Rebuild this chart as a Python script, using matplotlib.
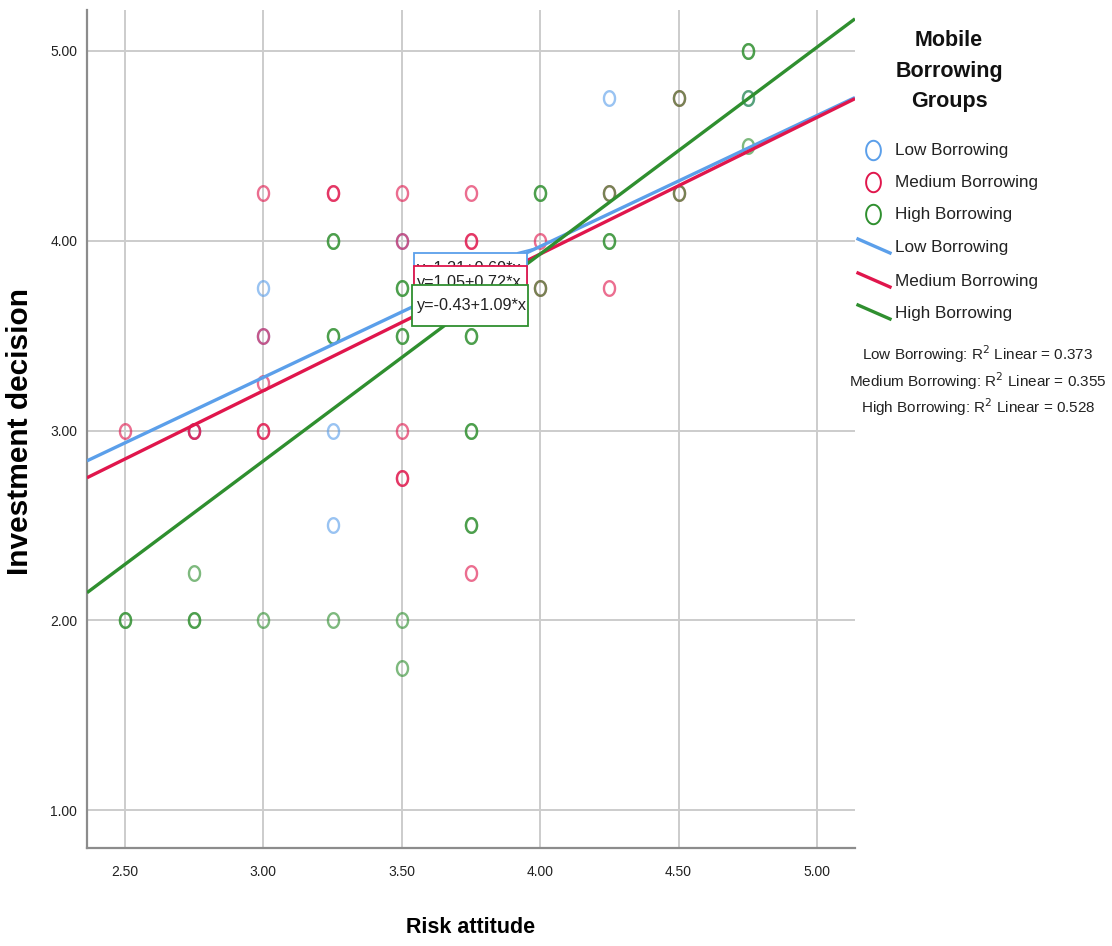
import matplotlib
matplotlib.use("Agg")
import matplotlib.pyplot as plt
import numpy as np
from matplotlib.path import Path
from matplotlib.patches import Rectangle

FONT = "Liberation Sans"

# ---------------- data ----------------
groups = ["Low Borrowing", "Medium Borrowing", "High Borrowing"]
colors = ["#5b9fea", "#e0164c", "#2f8f2f"]

low_x = [3.00, 3.00, 3.25, 3.25, 3.50, 4.25, 4.75, 2.75]
low_y = [3.75, 3.50, 3.00, 2.50, 4.00, 4.75, 4.75, 3.00]

med_x = [2.50, 2.75, 2.75, 3.00, 3.00, 3.00, 3.00, 3.00, 3.25, 3.25, 3.50, 3.50, 3.50,
         3.50, 3.50, 3.75, 3.75, 3.75, 3.75, 4.00, 4.00, 4.25, 4.25, 4.50, 4.50]
med_y = [3.00, 3.00, 3.00, 4.25, 3.50, 3.25, 3.00, 3.00, 4.25, 4.25, 4.25, 4.00, 3.00,
         2.75, 2.75, 4.25, 4.00, 4.00, 2.25, 4.00, 3.75, 4.25, 3.75, 4.75, 4.25]

high_x = [2.50, 2.50, 2.75, 2.75, 2.75, 3.00, 3.25, 3.25, 3.25, 3.25, 3.25, 3.50, 3.50,
          3.50, 3.50, 3.50, 3.50, 3.75, 3.75, 3.75, 3.75, 3.75, 3.75, 4.00, 4.00, 4.00,
          4.25, 4.25, 4.25, 4.50, 4.50, 4.75, 4.75, 4.75, 4.75]
high_y = [2.00, 2.00, 2.25, 2.00, 2.00, 2.00, 4.00, 4.00, 3.50, 3.50, 2.00, 3.75, 3.75,
          3.50, 3.50, 2.00, 1.75, 3.50, 3.50, 3.00, 3.00, 2.50, 2.50, 4.25, 4.25, 3.75,
          4.25, 4.00, 4.00, 4.75, 4.25, 5.00, 5.00, 4.75, 4.50]

intercepts = [1.21, 1.05, -0.43]
slopes = [0.69, 0.72, 1.09]
r2 = [0.373, 0.355, 0.528]

x_ticks = [2.50, 3.00, 3.50, 4.00, 4.50, 5.00]
y_ticks = [1.00, 2.00, 3.00, 4.00, 5.00]
x_label = "Risk attitude"
y_label = "Investment decision"
legend_title = "Mobile\nBorrowing\nGroups"

# ---------------- figure ----------------
W, H = 1112, 946
fig = plt.figure(figsize=(W / 100, H / 100), dpi=100)
ax = fig.add_axes([87 / W, (H - 848) / H, (855 - 87) / W, (848 - 10) / H])
xlim = (2.3627, 5.1373)
ax.set_xlim(*xlim)
ax.set_ylim(0.80, 5.216)

for s in ["top", "right"]:
    ax.spines[s].set_visible(False)
for s in ["left", "bottom"]:
    ax.spines[s].set_color("#8c8c8c")
    ax.spines[s].set_linewidth(1.6)

ax.set_xticks(x_ticks)
ax.set_yticks(y_ticks)
ax.set_xticklabels([f"{v:.2f}" for v in x_ticks], fontfamily=FONT, fontsize=10, color="#222222")
ax.set_yticklabels([f"{v:.2f}" for v in y_ticks], fontfamily=FONT, fontsize=10, color="#222222")
ax.tick_params(axis="both", length=0)
ax.tick_params(axis="x", pad=12)
ax.tick_params(axis="y", pad=7)
ax.grid(True, color="#cccccc", linewidth=1.4, zorder=0)
ax.set_axisbelow(True)

ax.set_xlabel(x_label, fontfamily=FONT, fontweight="bold", fontsize=15.5)
ax.xaxis.set_label_coords(0.5, (848 - 917) / 838)
ax.set_ylabel(y_label, fontfamily=FONT, fontweight="bold", fontsize=21.5)
ax.yaxis.set_label_coords((34 - 87) / 768, (848 - 431) / 838)

# elliptical (vertically stretched) open circle marker
t = np.linspace(0, 2 * np.pi, 60)
ell = Path(np.column_stack([0.76 * np.cos(t), np.sin(t)]), closed=True)

series = [(low_x, low_y), (med_x, med_y), (high_x, high_y)]
for (xs, ys), c in zip(series, colors):
    ax.plot(xs, ys, linestyle="none", marker=ell, markersize=10.5, markerfacecolor="none",
            markeredgecolor=c, markeredgewidth=1.7, alpha=0.62, zorder=3)

xx = np.array(xlim)
for a, b, c in zip(intercepts, slopes, colors):
    ax.plot(xx, a + b * xx, color=c, linewidth=2.4, zorder=4, solid_capstyle="butt")

# equation labels (overlapping boxes, as in SPSS)
box_x0, box_w, box_h = 3.544, 0.408, 0.216
box_tops = [3.937, 3.868, 3.768]
text_offsets = [0.085, 0.090, 0.107]
z = 6
for a, b, c, top, off in zip(intercepts, slopes, colors, box_tops, text_offsets):
    wide = c == colors[2]
    x0 = box_x0 - (0.007 if wide else 0)
    w = box_w + (0.011 if wide else 0)
    ax.add_patch(Rectangle((x0, top - box_h), w, box_h, facecolor="white",
                           edgecolor=c, linewidth=1.3, zorder=z))
    ax.text(box_x0 + 0.010, top - off, f"y={a:.2f}+{b:.2f}*x",
            fontfamily=FONT, fontsize=11.7, color="#222222", ha="left", va="center",
            zorder=z + 1)
    z += 2
# leader from blue label to its line
ax.plot([3.92, 3.99], [3.937, intercepts[0] + slopes[0] * 3.99], color=colors[0],
        linewidth=1.3, zorder=5)

# ---------------- legend (right panel) ----------------
lg = fig.add_axes([855 / W, 0, (W - 855) / W, 1])
lg.set_xlim(855, W)
lg.set_ylim(H, 0)
lg.axis("off")

lg.text(949, 71, legend_title, ha="center", va="center", fontfamily=FONT,
        fontweight="bold", fontsize=15.5, linespacing=1.6, color="#111111")

entry_y = [150, 182, 214, 247, 281, 313]
for i, (name, c) in enumerate(zip(groups, colors)):
    lg.plot([873], [entry_y[i]], marker=ell, markersize=14, markerfacecolor="none",
            markeredgecolor=c, markeredgewidth=1.4, linestyle="none")
    lg.text(895, entry_y[i], name, ha="left", va="center", fontfamily=FONT,
            fontsize=12.3, color="#222222")
    yl = entry_y[i + 3]
    lg.plot([858, 890], [yl - 8, yl + 6], color=c, linewidth=2.4)
    lg.text(895, yl, name, ha="left", va="center", fontfamily=FONT,
            fontsize=12.3, color="#222222")

r2_y = [354, 381, 407]
for name, v, yy in zip(groups, r2, r2_y):
    lg.text(978, yy, f"{name}: R$^2$ Linear = {v:.3f}", ha="center", va="center",
            fontfamily=FONT, fontsize=11, color="#222222")

fig.savefig("out.png", dpi=100)
